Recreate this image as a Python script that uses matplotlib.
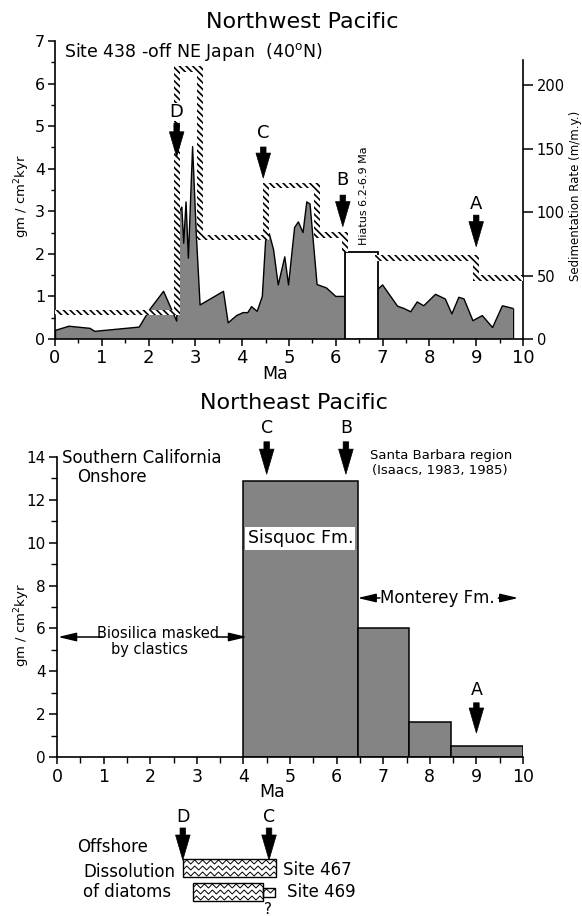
import numpy as np
import matplotlib
matplotlib.use('Agg')
import matplotlib.pyplot as plt
from matplotlib.patches import Rectangle

plt.rcParams['font.family'] = ['DejaVu Sans']
plt.rcParams['mathtext.fontset'] = 'dejavusans'
plt.rcParams['hatch.linewidth'] = 1.2

# ---------------- data ----------------
# Northwest Pacific, Site 438: biogenic silica flux (gm / cm2 kyr) vs age (Ma)
nwp_age = [0.0, 0.3, 0.75, 0.85, 1.8, 2.03, 2.32, 2.6, 2.66, 2.71,
           2.75, 2.8, 2.85, 2.94, 3.02, 3.1, 3.6, 3.7, 3.88, 4.02,
           4.12, 4.2, 4.32, 4.43, 4.5, 4.58, 4.67, 4.77, 4.91, 4.99,
           5.12, 5.2, 5.3, 5.38, 5.45, 5.6, 5.8, 6.0, 6.2, 6.88,
           7.0, 7.32, 7.45, 7.6, 7.74, 7.88, 8.13, 8.34, 8.48, 8.63,
           8.74, 8.93, 9.13, 9.35, 9.56, 9.78]
nwp_flux = [0.2, 0.3, 0.25, 0.18, 0.28, 0.7, 1.12, 0.42, 3.0, 3.1,
            2.25, 3.22, 1.9, 4.52, 2.45, 0.8, 1.12, 0.38, 0.55, 0.62,
            0.62, 0.76, 0.65, 1.0, 2.3, 2.47, 2.1, 1.27, 1.93, 1.27,
            2.62, 2.75, 2.5, 3.22, 3.17, 1.28, 1.2, 1.0, 1.0, 1.15,
            1.27, 0.77, 0.72, 0.64, 0.87, 0.78, 1.05, 0.94, 0.59, 0.98,
            0.94, 0.43, 0.55, 0.27, 0.78, 0.72]

# sedimentation rate (m/m.y.) steps
sed_start = [0.0, 2.6, 3.1, 4.5, 5.6, 6.9, 9.0]
sed_end = [2.6, 3.1, 4.5, 5.6, 6.2, 9.0, 10.0]
sed_rate = [21, 213, 80, 121, 82, 64, 48]

# hiatus 6.2-6.9 Ma
hiatus_start = 6.2
hiatus_end = 6.9
hiatus_height = 2.05

nwp_events = ['D', 'C', 'B', 'A']
nwp_event_age = [2.6, 4.45, 6.15, 9.0]

# Northeast Pacific, Santa Barbara region
nep_edges = [4.0, 6.45, 7.55, 8.45, 10.0]
nep_flux = [12.9, 6.0, 1.63, 0.53]
nep_events = ['C', 'B', 'A']
nep_event_age = [4.5, 6.2, 9.0]

# Offshore dissolution of diatoms
site_names = ['Site 467', 'Site 469']
diss_start = [2.7, 2.91]
diss_end = [4.7, 4.41]
diss_uncertain_start = 4.41
diss_uncertain_end = 4.68
off_events = ['D', 'C']
off_event_age = [2.7, 4.55]

x_ticks = list(range(0, 11))
flux_ticks_top = list(range(0, 8))
rate_ticks = [0, 50, 100, 150, 200]
flux_ticks_bottom = list(range(0, 15, 2))

# ---------------- layout ----------------
W, H = 582, 916
STIPPLE = '#848484'
fig = plt.figure(figsize=(W / 100, H / 100), dpi=100)


def fx(px):
    return px / W


def fy(py):
    return 1 - py / H


RATE_TOP = 235.0  # right-axis value at flux 7

ax1 = fig.add_axes([fx(55), fy(339), (523 - 55) / W, (339 - 41) / H])
ax1.set_xlim(0, 10)
ax1.set_ylim(0, 7)
ax2 = ax1.twinx()
ax2.set_ylim(0, RATE_TOP)
ax2.set_xlim(0, 10)

for s in ['top', 'right']:
    ax1.spines[s].set_visible(False)
for s in ['top', 'left', 'bottom']:
    ax2.spines[s].set_visible(False)
ax2.spines['right'].set_bounds(0, 220)
for sp in list(ax1.spines.values()) + list(ax2.spines.values()):
    sp.set_linewidth(1.2)

ax1.set_xticks(x_ticks)
ax1.set_xticks(np.arange(0, 10.01, 0.5), minor=True)
ax1.set_yticks(flux_ticks_top)
ax1.set_yticks(np.arange(0, 7.01, 0.5), minor=True)
ax1.tick_params(axis='x', which='major', direction='out', length=5, width=1.1,
                labelsize=13, pad=2)
ax1.tick_params(axis='y', which='major', direction='out', length=5, width=1.1,
                labelsize=11.5, pad=2)
ax1.tick_params(which='minor', direction='out', length=3, width=1.0)
ax2.set_yticks(rate_ticks)
ax2.tick_params(axis='y', direction='out', length=7, width=1.1, labelsize=10.5, pad=3)

# silica flux area
ax1.fill_between(nwp_age, nwp_flux, 0, facecolor=STIPPLE, edgecolor='none', zorder=2)
ax1.plot(nwp_age, nwp_flux, color='black', lw=1.0, zorder=2.5)
ax1.vlines([nwp_age[0], nwp_age[-1]], 0, [nwp_flux[0], nwp_flux[-1]],
           color='black', lw=1.0, zorder=2.5)

# hiatus box
ax1.add_patch(Rectangle((hiatus_start, 0), hiatus_end - hiatus_start, hiatus_height,
                        facecolor='white', edgecolor='black', lw=1.3, zorder=3))
ax1.text(6.6, 2.2, 'Hiatus 6.2-6.9 Ma', rotation=90, ha='center', va='bottom',
         fontsize=8)

# sedimentation-rate band (hatched)
BAND_H = 4.3
BAND_W = 0.13
hatch_kw = dict(facecolor='white', edgecolor='black', lw=0, hatch='\\\\\\\\\\', zorder=4)
hiatus_rate = hiatus_height * RATE_TOP / 7.0
for i in range(len(sed_rate)):
    x0 = sed_start[i] - (BAND_W / 2 if i > 0 else 0)
    x1 = sed_end[i] + (BAND_W / 2 if i < len(sed_rate) - 1 else 0)
    ax2.add_patch(Rectangle((x0, sed_rate[i] - BAND_H / 2), x1 - x0, BAND_H, **hatch_kw))
    if i < len(sed_rate) - 1:
        if sed_end[i] == sed_start[i + 1]:
            lo, hi = sorted([sed_rate[i], sed_rate[i + 1]])
        else:
            lo, hi = hiatus_rate, sed_rate[i]
        ax2.add_patch(Rectangle((sed_end[i] - BAND_W / 2, lo), BAND_W, hi - lo, **hatch_kw))


def down_arrow(ax, x, y_top, y_tip, trans=None):
    kw = {}
    if trans is not None:
        kw = dict(xycoords=trans, textcoords=trans)
    ax.annotate('', xy=(x, y_tip), xytext=(x, y_top),
                arrowprops=dict(arrowstyle='simple,head_length=18,head_width=10.5,tail_width=4',
                                mutation_scale=1, fc='black', ec='black', lw=0.5,
                                shrinkA=0, shrinkB=0),
                annotation_clip=False, zorder=6, **kw)


def h_arrow(ax, x_from, x_to, y):
    ax.annotate('', xy=(x_to, y), xytext=(x_from, y),
                arrowprops=dict(arrowstyle='-|>,head_length=11,head_width=2.6',
                                mutation_scale=1, color='black', lw=1.1,
                                shrinkA=0, shrinkB=0),
                annotation_clip=False)


# top event arrows (flux units)
nwp_label_y = [5.33, 4.85, 3.73, 3.17]
nwp_arrow_top = [5.07, 4.51, 3.38, 2.91]
nwp_arrow_tip = [4.28, 3.78, 2.64, 2.17]
for lab, xa, yl, yt, yp in zip(nwp_events, nwp_event_age, nwp_label_y, nwp_arrow_top, nwp_arrow_tip):
    down_arrow(ax2, xa, yt, yp, trans=ax1.transData)
    ax2.text(xa, yl, lab, transform=ax1.transData, ha='center', va='center', fontsize=13,
             zorder=7, bbox=dict(facecolor='white', edgecolor='none', pad=0.3))

ax1.text(0.19, 6.73, 'Site 438 -off NE Japan  (40$^{\\mathrm{o}}$N)', ha='left', va='center',
         fontsize=12.5)

fig.text(fx(302), fy(22), 'Northwest Pacific', ha='center', va='center', fontsize=16)
fig.text(fx(275), fy(374), 'Ma', ha='center', va='center', fontsize=12.5)
fig.text(fx(22), fy(196), 'gm / cm$^2$kyr', rotation=90, ha='center', va='center', fontsize=9.5)
fig.text(fx(576), fy(196), 'Sedimentation Rate (m/m.y.)', rotation=90, ha='center',
         va='center', fontsize=8.5)

# ---------------- bottom chart ----------------
ax4 = fig.add_axes([fx(57), fy(757), 466 / W, 300 / H])
ax4.set_xlim(0, 10)
ax4.set_ylim(0, 14)
for s in ['top', 'right']:
    ax4.spines[s].set_visible(False)
for sp in ax4.spines.values():
    sp.set_linewidth(1.2)
ax4.set_xticks(x_ticks)
ax4.set_xticks(np.arange(0, 10.01, 0.5), minor=True)
ax4.set_yticks(flux_ticks_bottom)
ax4.set_yticks(np.arange(0, 14.01, 1), minor=True)
ax4.tick_params(axis='x', which='major', direction='out', length=5, width=1.1,
                labelsize=12.5, pad=3)
ax4.tick_params(axis='y', which='major', direction='out', length=6, width=1.1,
                labelsize=11, pad=2)
ax4.tick_params(which='minor', direction='out', length=4, width=1.0)

widths = np.diff(nep_edges)
ax4.bar(nep_edges[:-1], nep_flux, width=widths, align='edge', facecolor=STIPPLE,
        edgecolor='black', lw=1.1, zorder=2)

nep_arrow_top = [14.71, 14.71, 2.53]
nep_arrow_tip = [13.2, 13.2, 1.12]
nep_lab_y = [15.35, 15.35, 3.13]
for lab, xa, yl, yt, yp in zip(nep_events, nep_event_age, nep_lab_y, nep_arrow_top, nep_arrow_tip):
    down_arrow(ax4, xa, yt, yp)
    ax4.text(xa, yl, lab, ha='center', va='center', fontsize=12.5, clip_on=False)

ax4.text(0.11, 13.95, 'Southern California', ha='left', va='center', fontsize=12)
ax4.text(0.43, 13.07, 'Onshore', ha='left', va='center', fontsize=12)
ax4.text(6.72, 14.09, 'Santa Barbara region', ha='left', va='center', fontsize=9.5,
         clip_on=False)
ax4.text(6.76, 13.35, '(Isaacs, 1983, 1985)', ha='left', va='center', fontsize=9.5)
ax4.text(5.22, 10.2, 'Sisquoc Fm.', ha='center', va='center', fontsize=12.5, zorder=5,
         bbox=dict(facecolor='white', edgecolor='none', pad=1.5))
ax4.text(6.93, 7.42, 'Monterey Fm.', ha='left', va='center', fontsize=12)
h_arrow(ax4, 6.93, 6.45, 7.42)
h_arrow(ax4, 9.47, 9.9, 7.42)
ax4.text(2.17, 5.74, 'Biosilica masked', ha='center', va='center', fontsize=10.5)
ax4.text(1.98, 5.0, 'by clastics', ha='center', va='center', fontsize=10.5)
h_arrow(ax4, 0.98, 0.02, 5.6)
h_arrow(ax4, 3.43, 4.08, 5.6)

fig.text(fx(294), fy(403), 'Northeast Pacific', ha='center', va='center', fontsize=16)
fig.text(fx(272), fy(792), 'Ma', ha='center', va='center', fontsize=12.5)
fig.text(fx(22), fy(625), 'gm / cm$^2$kyr', rotation=90, ha='center', va='center', fontsize=9.5)

# ---------------- offshore panel (y in pixel rows) ----------------
ax3 = fig.add_axes([fx(57), 0, 466 / W, (916 - 800) / H])
ax3.set_xlim(0, 10)
ax3.set_ylim(916, 800)
ax3.axis('off')

for lab, xa in zip(off_events, off_event_age):
    down_arrow(ax3, xa, 828, 860)
    ax3.text(xa, 817, lab, ha='center', va='center', fontsize=12.5)

ax3.text(0.43, 847, 'Offshore', ha='left', va='center', fontsize=12)
ax3.text(0.56, 872, 'Dissolution', ha='left', va='center', fontsize=12)
ax3.text(0.56, 892, 'of diatoms', ha='left', va='center', fontsize=12)

ZZ_PERIOD = 0.17
ZZ_AMP = 2.0
ZZ_GAP = 6.0


def zigzag_box(ax, x0, x1, y0, y1):
    rect = Rectangle((x0, y0), x1 - x0, y1 - y0, facecolor='white', edgecolor='none', zorder=2)
    ax.add_patch(rect)
    half = ZZ_PERIOD / 2
    xs = np.arange(x0 - half, x1 + 2 * half, half)
    sign = np.where(np.arange(len(xs)) % 2 == 0, -1.0, 1.0)
    for yc in np.arange(y0 + ZZ_GAP / 2, y1, ZZ_GAP):
        ln, = ax.plot(xs, yc + ZZ_AMP * sign, color='black', lw=0.7, zorder=3)
        ln.set_clip_path(rect)
    ax.add_patch(Rectangle((x0, y0), x1 - x0, y1 - y0, facecolor='none', edgecolor='black',
                           lw=1.0, zorder=4))


row_top = [859, 883]
row_bot = [877, 901]
for x0, x1, y0, y1 in zip(diss_start, diss_end, row_top, row_bot):
    zigzag_box(ax3, x0, x1, y0, y1)
zigzag_box(ax3, diss_uncertain_start, diss_uncertain_end, 888, 897)

ax3.text(4.85, 870, site_names[0], ha='left', va='center', fontsize=12)
ax3.text(4.94, 892, site_names[1], ha='left', va='center', fontsize=12)
ax3.text(4.53, 909, '?', ha='center', va='center', fontsize=11)

fig.savefig('out.png', dpi=100, facecolor='white')
